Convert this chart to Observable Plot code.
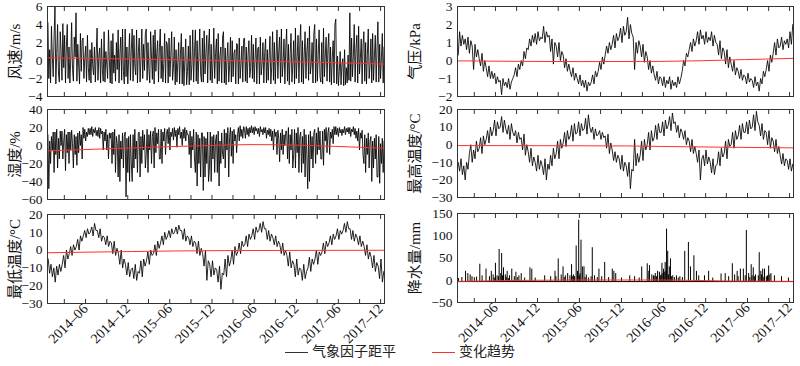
<!DOCTYPE html>
<html><head><meta charset="utf-8">
<script src="https://cdn.jsdelivr.net/npm/d3@7"></script>
<script src="https://cdn.jsdelivr.net/npm/@observablehq/plot@0.6"></script>
<style>
body{margin:0;background:#fff;}
#c{position:relative;width:800px;height:366px;overflow:hidden;font-family:"Liberation Serif","Times New Roman","Noto Sans CJK SC",serif;}
.p{position:absolute;}
.p svg{overflow:visible;}
.lg{position:absolute;font-family:"Liberation Serif","Noto Sans CJK SC",serif;font-size:14px;line-height:16px;color:#222;}
.ln{position:absolute;height:0;border-top:1px solid;}
</style></head><body><div id="c"></div>
<script>
// ---- data: wind & humidity eight readings per month, the others five, 2014-01 .. 2017-12 ----
const windSpeed = [
 4.2,-2.0,1.2,-2.5,3.8,0.5,-1.8,2.6, 6.0,-2.6,0.8,4.0,-1.5,-2.4,3.2,1.0, -2.2,4.1,-0.8,2.8,-2.5,1.5,4.0,-2.0, 1.5,-2.5,0.2,4.2,-1.0,-2.3,2.6,0.4,
 5.3,-2.3,1.8,-0.5,-2.6,3.0,-1.2,2.2, 2.5,-2.0,0.3,1.6,-2.4,2.8,-0.8,-2.2, 1.2,-2.5,2.0,-0.6,-1.6,1.5,-2.4,0.8, 3.6,-2.2,0.5,1.4,-2.5,2.4,-1.0,-2.3,
 3.2,-2.4,1.0,-0.4,-2.0,3.4,0.2,-2.5, 2.2,-2.6,3.0,-1.4,0.6,-2.3,2.0,-1.0, 3.4,-2.5,0.8,2.6,-2.2,3.5,-1.2,-2.6, 3.5,-1.8,1.5,-2.6,0.4,3.0,-2.2,1.2,
 3.5,-2.3,2.8,-0.6,-1.6,3.4,-2.5,0.9, 2.5,-2.4,0.2,3.5,-2.0,1.8,-1.1,3.0, 3.5,-2.2,2.0,-0.9,-2.5,3.2,0.5,-2.1, 2.8,-2.6,3.4,-1.2,0.8,2.2,-2.4,1.4,
 3.5,-2.0,1.6,-2.4,-0.3,3.0,-2.5,2.1, 1.8,-2.5,2.5,-1.8,0.6,3.2,-2.2,-0.9, 2.6,-2.7,1.2,-2.4,-0.2,2.0,-2.6,0.7, 3.0,-2.6,1.5,-2.8,0.1,2.4,-2.7,-1.2,
 1.6,-2.7,2.8,-2.2,-0.5,3.4,-2.4,1.0, 3.4,-2.3,2.2,-2.6,0.4,3.5,-1.5,-2.4, 2.5,-2.4,3.3,-1.5,0.9,2.8,-2.5,1.6, 3.5,-2.2,1.8,-2.5,-0.4,3.6,-2.0,0.8,
 2.4,-2.6,3.0,-2.3,0.5,1.5,-2.5,2.6, 3.2,-2.5,1.4,-2.7,0.2,2.0,-2.4,-0.6, 2.6,-2.4,2.2,-1.8,0.8,1.2,-2.6,1.9, 1.8,-2.6,2.5,-2.0,-0.3,1.6,-2.4,2.4,
 2.5,-2.3,1.5,-2.5,0.6,2.2,-1.9,-0.8, 2.8,-2.0,1.8,-2.4,0.2,2.5,-2.6,1.3, 1.5,-2.6,2.6,-1.6,-0.4,2.0,-2.5,0.9, 2.4,-2.5,1.2,-2.2,0.5,2.7,-2.6,-0.7,
 3.2,-2.2,2.0,-2.6,0.6,3.4,-2.0,1.1, 2.6,-2.5,3.5,-1.8,-0.2,2.4,-2.6,1.5, 3.5,-2.3,1.8,-2.7,0.8,3.0,-2.4,-0.5, 2.2,-2.6,3.6,-2.0,0.4,2.8,-2.5,1.7,
 4.0,-2.4,2.2,-2.6,0.6,3.2,-2.0,1.0, 2.5,-2.2,3.8,-1.5,-0.4,2.0,-2.5,3.0, 4.0,-2.5,2.4,-2.3,0.7,3.4,-1.8,-2.4, 2.0,-2.6,3.6,-1.8,0.5,2.6,-2.3,1.2,
 3.0,-2.4,1.5,-2.7,0.3,2.2,-2.5,4.0, 4.6,-2.6,0.5,-2.8,-1.2,1.0,-2.7,-0.4, 0.2,-2.8,1.2,-2.7,-0.8,-2.5,0.6,-2.2, 5.3,-2.3,2.5,-1.8,0.4,4.0,-2.4,1.3,
 2.8,-2.5,3.8,-1.5,0.2,2.4,-2.6,1.6, 3.2,-2.3,2.0,-2.6,0.7,3.5,-2.0,-0.6, 2.4,-2.5,3.0,-2.2,0.5,2.8,-2.4,1.4, 4.3,-2.4,1.8,-2.0,0.3,3.0,-2.5,1.5
];
const pressure = [
 0.3,1.6,0.8,1.4,0.9, 1.2,0.6,1.3,0.4,1.1, 0.8,-0.5,0.9,0.2,0.6, 0.1,-0.3,0.4,-0.6,0.0,
 -0.4,-0.9,-0.3,-1.0,-0.6, -1.0,-0.7,-1.3,-0.9,-1.2, -1.1,-1.9,-1.0,-1.4,-1.2, -1.5,-1.0,-1.6,-1.2,-1.0,
 -0.8,-0.4,-0.9,-0.2,-0.5, 0.0,-0.3,0.5,0.1,0.7, 0.6,1.2,0.8,1.4,1.0, 1.5,0.9,1.6,1.1,1.3,
 1.2,1.9,1.0,1.6,1.3, 1.4,0.5,1.2,-0.2,1.0, 0.8,0.2,1.0,0.0,0.5, 0.3,-0.4,0.1,-0.6,-0.2,
 -0.6,-0.9,-0.4,-1.1,-0.7, -1.0,-1.3,-0.8,-1.4,-1.1, -1.5,-1.1,-1.7,-1.2,-1.4, -1.2,-0.8,-1.3,-0.6,-0.9,
 -0.6,-0.1,-0.5,0.2,-0.2, 0.3,0.8,0.4,1.0,0.6, 0.9,1.4,0.7,1.5,1.1, 1.3,1.8,1.0,1.9,1.4,
 1.6,2.4,1.2,2.0,1.5, 1.3,-0.5,1.0,0.4,1.1, 0.8,0.2,0.9,-0.1,0.5, 0.2,-0.5,0.0,-0.7,-0.3,
 -0.8,-1.1,-0.6,-1.3,-0.9, -1.0,-1.4,-0.9,-1.5,-1.1, -1.3,-0.9,-1.6,-1.1,-1.4, -1.2,-1.5,-0.9,-1.3,-1.0,
 -0.6,0.0,-0.3,0.4,0.2, 0.6,1.0,0.5,1.2,0.8, 1.1,1.6,0.9,1.7,1.2, 1.4,0.9,1.6,1.0,1.3,
 1.1,1.6,0.8,1.4,1.0, 0.9,0.3,1.1,0.1,0.7, 0.5,-0.2,0.6,-0.4,0.2, -0.2,-0.6,0.0,-0.8,-0.4,
 -0.6,-1.0,-0.5,-1.1,-0.8, -0.9,-1.3,-0.7,-1.2,-1.0, -1.1,-1.5,-0.9,-1.4,-1.2, -1.7,-1.0,-1.3,-0.6,-0.9,
 -0.5,0.0,-0.6,0.3,-0.1, 0.4,1.0,0.3,1.2,0.7, 0.8,1.3,0.6,1.1,0.9, 1.2,0.7,1.6,0.9,2.0
];
const humidity = [
 12,-48,5,-20,10,-5,15,-30, 15,-10,18,-25,8,-15,16,0, 16,-15,5,18,-28,12,-8,15, -20,15,-5,17,2,-25,12,-10,
 10,-22,14,-8,16,0,12,-15, 20,8,18,5,15,10,19,12, 19,12,21,10,18,14,20,11, 17,10,20,8,19,13,16,-5,
 15,5,18,-5,12,-15,14,8, 14,-20,15,-10,18,-30,10,2, -35,12,-40,5,-15,14,-25,10, 15,-57,8,-30,10,-40,12,-20,
 -40,12,-25,18,-15,5,-30,14, 15,-35,10,-20,17,-5,12,-25, -10,18,-30,12,-5,16,-20,10, 16,-25,20,-8,14,2,18,-15,
 -15,18,-20,15,5,19,-10,12, 18,2,20,-5,15,10,19,6, 20,10,17,-2,19,12,21,8, 15,0,18,8,20,5,17,12,
 12,-10,16,-25,10,-5,18,-15, -30,15,-45,12,-20,8,-35,14, 14,-50,10,-35,8,-20,15,-40, -25,15,-40,10,-15,12,-30,5,
 12,-30,16,-45,5,-20,14,-10, -15,18,-25,14,-5,20,-35,10, 20,-12,16,-20,18,5,12,-8, 12,20,5,22,10,18,8,21,
 18,8,21,12,19,10,20,14, 22,14,20,12,21,16,19,13, 19,10,21,15,18,12,20,14, 20,8,17,12,19,10,18,5,
 16,-5,18,10,15,-10,17,8, -18,14,-5,18,-10,12,0,16, 16,-15,20,-20,12,-5,18,-25, -10,18,-25,14,-8,20,-30,10,
 15,-30,10,-20,18,-35,12,-10, -48,12,-40,16,-15,10,-25,14, 18,-20,14,-10,20,-5,16,-15, -15,16,-22,18,5,20,-8,14,
 20,-10,15,8,18,2,21,12, 21,12,19,10,20,14,18,11, 18,14,21,12,19,15,20,13, 20,10,18,15,21,12,19,8,
 16,5,19,-5,14,8,17,-10, -20,12,-30,8,-10,14,-25,5, 10,-40,5,-25,8,-15,12,-35, -35,10,-42,2,-20,8,-30,5
];
const maxTemp = [
 -10,-15,-8,-17,-12, -20,-10,-14,-5,0, -10,-3,-8,2,-4, -2,4,-5,5,0,
 3,8,1,10,5, 8,14,5,13,9, 10,16,7,14,9, 6,11,3,12,7,
 5,8,1,7,3, 4,-3,6,-6,0, -4,-10,-2,-12,-7, -10,-15,-6,-14,-9,
 -12,-17,-8,-20,-11, -14,-6,-12,-2,-8, -5,2,-8,3,-2, 1,7,-1,8,3,
 5,11,2,12,6, 7,13,5,12,8, 9,15,6,17,10, 7,10,3,9,5,
 6,8,3,7,4, 5,-2,6,-5,1, -3,-9,-4,-10,-6, -8,-14,-6,-15,-10,
 -12,-18,-10,-25,-14, -15,3,-12,-5,-10, -6,2,-9,3,-3, 0,7,-3,8,2,
 4,11,3,12,7, 7,13,5,14,9, 11,16,8,18,12, 13,7,11,4,9,
 7,3,8,0,4, 2,-4,3,-5,-1, -5,-10,-3,-20,-8, -6,-12,-3,-11,-7,
 -10,-16,-8,-17,-12, -11,-4,-12,-2,-7, -5,2,-8,3,-1, 0,7,-2,8,3,
 5,11,3,12,7, 7,13,6,14,9, 10,17,8,19,13, 11,5,12,3,8,
 7,0,8,-2,4, 2,-4,3,-5,-1, -6,-11,-5,-12,-8, -9,-14,-8,-15,-11
];
const minTemp = [
 -5,-13,-8,-15,-10, -18,-9,-14,-8,-12, -8,-3,-10,0,-5, -2,2,-3,3,0,
 2,6,0,8,5, 8,11,7,12,9, 10,13,8,15,11, 11,7,12,5,8,
 7,3,8,2,5, 4,-2,5,-3,1, -2,-8,0,-10,-5, -8,-14,-7,-15,-11,
 -10,-16,-8,-17,-12, -13,-6,-15,-5,-9, -6,-1,-8,0,-3, -2,3,-3,5,1,
 4,8,3,10,6, 8,11,7,12,9, 10,13,9,14,11, 11,6,12,5,8,
 7,3,8,2,5, 4,-2,5,-3,1, -2,-9,0,-17,-6, -8,-15,-6,-14,-10,
 -11,-18,-9,-22,-13, -14,-5,-15,-3,-9, -6,0,-8,2,-3, -1,4,-2,5,2,
 3,8,2,9,6, 8,12,6,13,10, 11,15,10,16,12, 12,6,11,5,9,
 7,3,8,2,5, 3,-2,4,-3,0, -3,-9,-1,-10,-6, -8,-15,-5,-14,-10,
 -11,-17,-8,-16,-12, -10,-4,-12,-5,-8, -5,0,-8,-1,-3, -1,4,-2,5,2,
 4,8,3,9,6, 8,12,6,11,9, 11,15,10,16,12, 12,6,11,5,9,
 7,3,8,2,5, 2,-3,3,-5,-1, -4,-10,-3,-12,-7, -9,-16,-5,-18,-12
];
// precipitation anomaly events [date, mm]
const precipDates = ["2014-01-05","2014-01-20","2014-02-05","2014-02-15","2014-02-25","2014-03-05","2014-03-15","2014-03-25","2014-04-08","2014-04-18","2014-05-05","2014-05-20","2014-05-28","2014-06-05","2014-06-15","2014-06-22","2014-07-01","2014-07-08","2014-07-12","2014-07-20","2014-07-28","2014-08-05","2014-08-15","2014-08-25","2014-09-05","2014-09-12","2014-09-25","2014-10-05","2014-10-20","2014-11-12","2014-11-20","2014-12-05","2015-01-15","2015-02-10","2015-03-01","2015-03-05","2015-03-15","2015-03-28","2015-04-05","2015-04-15","2015-04-25","2015-05-05","2015-05-12","2015-05-20","2015-06-01","2015-06-07","2015-06-12","2015-06-18","2015-06-22","2015-06-28","2015-07-05","2015-07-15","2015-08-10","2015-08-20","2015-09-08","2015-09-20","2015-10-03","2015-10-20","2015-11-05","2015-11-12","2015-11-20","2015-12-15","2016-01-20","2016-02-10","2016-03-01","2016-03-12","2016-04-05","2016-04-12","2016-04-15","2016-04-25","2016-05-02","2016-05-10","2016-05-20","2016-05-28","2016-06-08","2016-06-15","2016-06-22","2016-06-28","2016-07-03","2016-07-10","2016-07-15","2016-07-25","2016-08-10","2016-08-25","2016-09-15","2016-10-01","2016-10-10","2016-10-25","2016-11-05","2016-11-15","2016-12-10","2016-12-28","2017-01-15","2017-02-20","2017-03-10","2017-03-25","2017-04-10","2017-04-20","2017-05-01","2017-05-15","2017-05-28","2017-06-10","2017-06-20","2017-07-01","2017-07-10","2017-07-20","2017-08-05","2017-08-12","2017-08-20","2017-08-28","2017-09-10","2017-09-15","2017-09-25","2017-10-10","2017-11-10","2017-12-10",
 "2014-06-10","2014-06-28","2014-08-01","2014-08-10","2014-09-18","2015-05-25","2015-06-15","2015-07-10","2015-07-25","2015-08-05","2015-09-01","2016-05-15","2016-06-01","2016-06-05","2016-06-12","2016-06-18","2016-06-25","2016-07-06","2016-07-20","2016-08-01","2016-08-18","2016-09-05","2017-05-05","2017-06-05","2017-06-25","2017-07-05","2017-07-15","2017-08-01","2017-08-15","2017-08-25","2017-09-05","2017-09-20","2015-04-10","2015-05-15","2016-05-05","2014-07-16"];
const precipValues = [4,6,20,15,12,8,6,7,36,10,25,8,20,12,38,10,69,15,60,28,12,20,10,25,8,18,10,15,5,28,25,5,10,8,20,8,48,12,30,10,15,10,35,12,77,20,135,15,90,30,30,12,73,10,25,8,40,6,25,20,15,5,10,8,5,30,37,20,33,12,10,15,20,18,38,25,40,115,65,30,48,10,10,8,65,85,30,55,20,10,10,20,5,14,15,8,37,12,20,25,25,112,15,35,28,12,62,20,25,25,10,32,15,10,8,5,
 5,8,6,4,6,8,10,6,5,8,6,8,10,12,15,18,20,12,8,6,5,6,8,10,6,10,8,10,12,6,8,12,6,8,9,10];
const precipBase = -3;

// trend lines [date, value]
const windTrend = [["2014-01-01",0.3],["2015-06-01",0.1],["2016-06-01",-0.05],["2017-06-01",-0.25],["2018-01-01",-0.4]];
const pressureTrend = [["2014-01-01",-0.02],["2015-06-01",-0.06],["2016-06-01",-0.05],["2017-06-01",0.05],["2018-01-01",0.12]];
const humidityTrend = [["2014-01-01",-6],["2014-12-01",-3],["2015-12-01",0],["2016-06-01",1],["2016-12-01",0.5],["2017-06-01",-1],["2018-01-01",-3]];
const maxTempTrend = [["2014-01-01",-0.5],["2016-01-01",-0.7],["2016-06-01",-1.0],["2018-01-01",-1.8]];
const minTempTrend = [["2014-01-01",-1.5],["2015-01-01",-0.8],["2016-01-01",-0.3],["2018-01-01",-0.1]];
const precipTrend = [["2014-01-01",-2.5],["2015-06-01",0.5],["2016-06-01",0.5],["2017-03-01",-1.5],["2018-01-01",-2.5]];

const tickDates = ["2014-03-15","2014-06-15","2014-09-15","2014-12-15","2015-03-15","2015-06-15","2015-09-15","2015-12-15","2016-03-15","2016-06-15","2016-09-15","2016-12-15","2017-03-15","2017-06-15","2017-09-15","2017-12-15"];
const labelDates = ["2014-06-15","2014-12-15","2015-06-15","2015-12-15","2016-06-15","2016-12-15","2017-06-15","2017-12-15"];

const labels = {wind:"风速/m/s", hum:"湿度/%", tmin:"最低温度/°C", pres:"气压/kPa", tmax:"最高温度/°C", prec:"降水量/mm"};
const legendItems = ["气象因子距平","变化趋势"];

// ---- build ----
const t0 = new Date("2014-01-01"), t1 = new Date("2018-01-01");
const toSeries = vals => { const step = (t1 - t0) / vals.length; return vals.map((v, i) => ({date: new Date(+t0 + (i + 0.5) * step), v})); };
const toTrend = arr => arr.map(([d, v]) => ({date: new Date(d), v}));
const ticks = tickDates.map(d => new Date(d));
const lticks = labelDates.map(d => new Date(d));
const FONT = '"Liberation Serif","Times New Roman",serif';
const RED = "#ff3030";
const numFmt = d => d < 0 ? "\u2212" + (-d) : String(d);

function panel({marks, yDomain, yTicks, label, left, top, height, mt, mb, ml, mr, xLabels, labelDx}) {
  const all = [
    ...marks,
    Plot.frame({stroke: "#333", strokeWidth: 1}),
    Plot.axisY({ticks: yTicks, tickSize: 0, tickPadding: 5, fontSize: 13.5, tickFormat: numFmt, label: null}),
    Plot.axisX({anchor: "bottom", ticks, tickSize: -4, tickFormat: () => "", label: null, stroke: "#333"}),
    Plot.axisX({anchor: "top", ticks, tickSize: -4, tickFormat: () => "", label: null, stroke: "#333"}),
    Plot.text([label], {frameAnchor: "left", dx: labelDx, rotate: -90, textAnchor: "middle", text: d => d, fontSize: 15, fill: "#111", fontFamily: '"Liberation Serif","Noto Sans CJK SC",serif'})
  ];
  if (xLabels) all.push(Plot.axisX({anchor: "bottom", ticks: lticks, tickSize: 0, tickRotate: -45, tickPadding: 3, fontSize: 14, tickFormat: d3.utcFormat("%Y\u2013%m"), label: null}));
  const svg = Plot.plot({
    width: 400, height, marginTop: mt, marginBottom: mb, marginLeft: ml, marginRight: mr,
    x: {type: "utc", domain: [t0, t1]},
    y: {domain: yDomain},
    style: {fontFamily: FONT, color: "#111", background: "transparent", overflow: "visible"},
    marks: all
  });
  const div = document.createElement("div");
  div.className = "p";
  div.style.left = left + "px"; div.style.top = top + "px";
  div.appendChild(svg);
  document.getElementById("c").appendChild(div);
}
const blackLine = vals => Plot.line(toSeries(vals), {x: "date", y: "v", stroke: "#000", strokeWidth: 0.85});
const redLine = tr => Plot.line(toTrend(tr), {x: "date", y: "v", stroke: RED, strokeWidth: 1, curve: "monotone-x"});

const L = {ml: 47, mr: 16, labelDx: -32}, R = {ml: 57, mr: 7, labelDx: -42};
panel({...L, left: 0, top: 0, height: 100, mt: 6, mb: 4, yDomain: [-4, 6], yTicks: [-4,-2,0,2,4,6], label: labels.wind, marks: [blackLine(windSpeed), redLine(windTrend)]});
panel({...L, left: 0, top: 100, height: 100, mt: 9, mb: 1, yDomain: [-60, 40], yTicks: [-60,-40,-20,0,20,40], label: labels.hum, marks: [blackLine(humidity), redLine(humidityTrend)]});
panel({...L, left: 0, top: 200, height: 145, mt: 14, mb: 42, yDomain: [-30, 20], yTicks: [-30,-20,-10,0,10,20], label: labels.tmin, xLabels: true, marks: [blackLine(minTemp), redLine(minTempTrend)]});
panel({...R, left: 400, top: 0, height: 100, mt: 6, mb: 4, yDomain: [-2, 3], yTicks: [-2,-1,0,1,2,3], label: labels.pres, marks: [blackLine(pressure), redLine(pressureTrend)]});
panel({...R, left: 400, top: 100, height: 100, mt: 9, mb: 3, yDomain: [-30, 20], yTicks: [-30,-20,-10,0,10,20], label: labels.tmax, marks: [blackLine(maxTemp), redLine(maxTempTrend)]});
const precipData = precipDates.map((d, i) => ({date: new Date(d), v: precipValues[i]}));
panel({...R, left: 400, top: 200, height: 145, mt: 13, mb: 43, yDomain: [-50, 150], yTicks: [-50,0,50,100,150], label: labels.prec, xLabels: true, marks: [
  Plot.ruleY([precipBase], {stroke: "#000", strokeWidth: 1}),
  Plot.ruleX(precipData, {x: "date", y1: precipBase, y2: "v", stroke: "#000", strokeWidth: 1}),
  redLine(precipTrend)
]});

// legend
const c = document.getElementById("c");
function legend(x, color, text) {
  const ln = document.createElement("div"); ln.className = "ln";
  ln.style.left = x + "px"; ln.style.top = "352px"; ln.style.width = "23px"; ln.style.borderColor = color;
  c.appendChild(ln);
  const t = document.createElement("div"); t.className = "lg";
  t.style.left = (x + 27) + "px"; t.style.top = "344px"; t.textContent = text;
  c.appendChild(t);
}
legend(285, "#333", legendItems[0]);
legend(432, RED, legendItems[1]);
</script></body></html>
